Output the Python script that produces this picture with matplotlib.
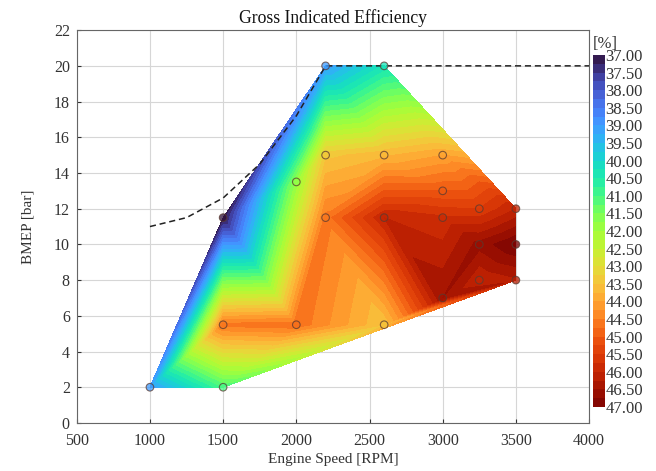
import numpy as np
import matplotlib
matplotlib.use("Agg")
import matplotlib.pyplot as plt
import matplotlib.tri as mtri

plt.rcParams['font.family'] = ['Liberation Serif', 'DejaVu Serif']

# measured points
rpm = [1000, 1500, 1500, 2000, 2600, 1500, 2000, 2200, 2600, 2200, 2600, 3000,
       2200, 2600, 3000, 3000, 3250, 3500, 3250, 3500, 3250, 3500, 3000]
bmep = [2, 2, 5.5, 5.5, 5.5, 11.5, 13.5, 20, 20, 15, 15, 15,
        11.5, 11.5, 11.5, 13, 12, 12, 10, 10, 8, 8, 7]
eff = [39.0, 41.0, 44.6, 44.7, 43.5, 37.0, 41.8, 39.0, 40.3, 43.4, 43.7, 44.0,
       44.6, 46.0, 45.8, 45.0, 45.5, 46.0, 46.6, 47.0, 46.0, 46.2, 46.5]

# full load line
fl_rpm = [1000, 1250, 1500, 1750, 2000, 2200, 4000]
fl_bmep = [11.0, 11.5, 12.6, 14.5, 17.2, 20.0, 20.0]

xticks = [500, 1000, 1500, 2000, 2500, 3000, 3500, 4000]
yticks = [0, 2, 4, 6, 8, 10, 12, 14, 16, 18, 20, 22]
cbar_ticks = np.arange(37.0, 47.01, 0.5)

fig = plt.figure(figsize=(6.56, 4.71), dpi=100)
ax = fig.add_axes([0.117, 0.102, 0.781, 0.834])
cax = fig.add_axes([0.904, 0.136, 0.019, 0.747])

levels = np.linspace(37.0, 47.0, 41)
cmap = plt.get_cmap('turbo')
tri = mtri.Triangulation(rpm, bmep)
cs = ax.tricontourf(tri, eff, levels=levels, cmap=cmap, zorder=2)

ax.plot(fl_rpm, fl_bmep, '--', color='#222222', lw=1.1, dashes=(4, 2.5), zorder=4)

ax.scatter(rpm, bmep, c=eff, cmap=cmap, vmin=37, vmax=47, s=30,
           edgecolors='#5a3a30', linewidths=0.8, alpha=0.75, zorder=5)

ax.set_xlim(500, 4000)
ax.set_ylim(0, 22)
ax.set_xticks(xticks)
ax.set_yticks(yticks)
ax.grid(True, color='#d6d6d6', lw=0.8, zorder=0)
ax.set_axisbelow(True)
ax.tick_params(axis='both', direction='in', length=3, labelsize=11.5, colors='#333333')
ax.tick_params(axis='x', pad=7)
ax.tick_params(axis='y', pad=5)
for s in ax.spines.values():
    s.set_color('#666666')
ax.set_xlabel('Engine Speed [RPM]', fontsize=11, color='#333333', labelpad=3)
ax.set_ylabel('BMEP [bar]', fontsize=11, color='#333333', labelpad=14)
ax.set_title('Gross Indicated Efficiency', fontsize=12.7, color='#111111', pad=5)

cb = fig.colorbar(cs, cax=cax, ticks=cbar_ticks)
cb.ax.invert_yaxis()
cb.ax.set_yticklabels(['%.2f' % t for t in cbar_ticks])
cb.ax.tick_params(length=0, labelsize=12, pad=0, colors='#333333')
cb.outline.set_visible(False)
cb.ax.set_title('[%]', fontsize=12, color='#333333', loc='left', pad=5)

fig.savefig('out.png', dpi=100)
